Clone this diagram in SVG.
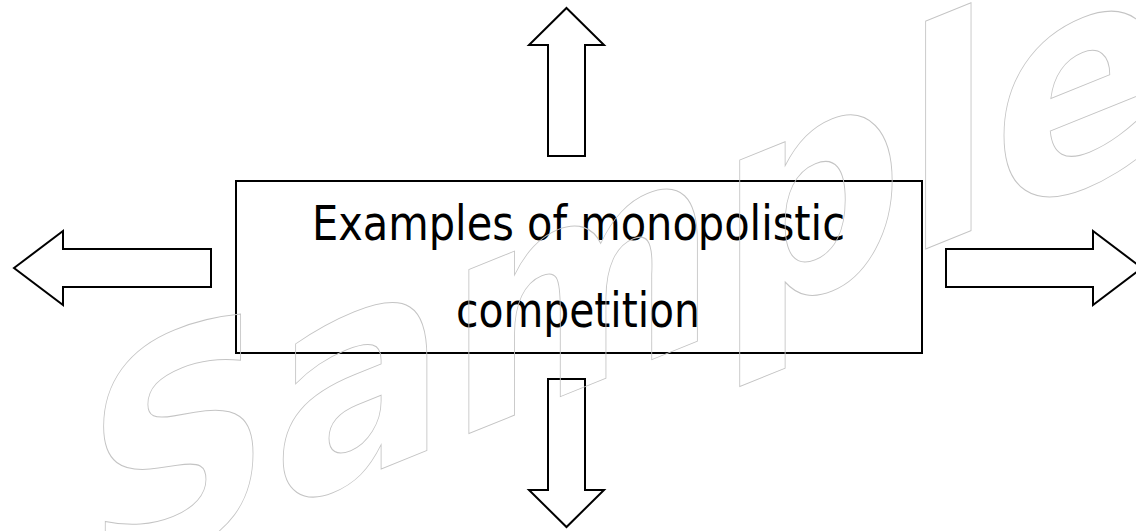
<svg xmlns="http://www.w3.org/2000/svg" width="1136" height="531" viewBox="0 0 1136 531">
  <style>
    .box { fill: #ffffff; stroke: #000000; stroke-width: 2; }
    .arrow { fill: #ffffff; stroke: #000000; stroke-width: 2; stroke-linejoin: miter; }
    .label { font-family: "DejaVu Sans", "Liberation Sans", sans-serif; font-size: 48px; fill: #000000; }
    .wm { font-family: "DejaVu Sans", "Liberation Sans", sans-serif; font-weight: bold; font-size: 300px; fill: none; stroke: #c4c4c4; stroke-width: 1; }
  </style>
  <rect width="1136" height="531" fill="#ffffff"/>
  <g id="connectors">
    <polygon id="arrow-up" class="arrow" points="566.5,8 604,45 585,45 585,156 548,156 548,45 529,45"/>
    <polygon id="arrow-down" class="arrow" points="548,379 585,379 585,490 604,490 566.5,527 529,490 548,490"/>
    <polygon id="arrow-left" class="arrow" points="14,268 63,231 63,249 211,249 211,287 63,287 63,305"/>
    <polygon id="arrow-right" class="arrow" points="946,249 1093,249 1093,231 1142,268 1093,305 1093,287 946,287"/>
  </g>
  <g id="node-center">
    <rect class="box" x="236" y="181" width="686" height="172"/>
    <text class="label" x="312" y="240" textLength="533" lengthAdjust="spacingAndGlyphs">Examples of monopolistic</text>
    <text class="label" x="456" y="327" textLength="244" lengthAdjust="spacingAndGlyphs">competition</text>
  </g>
  <g id="watermark">
    <text class="wm" x="85" y="623" textLength="1084" lengthAdjust="spacingAndGlyphs" transform="skewY(-22)">Sample</text>
  </g>
</svg>
